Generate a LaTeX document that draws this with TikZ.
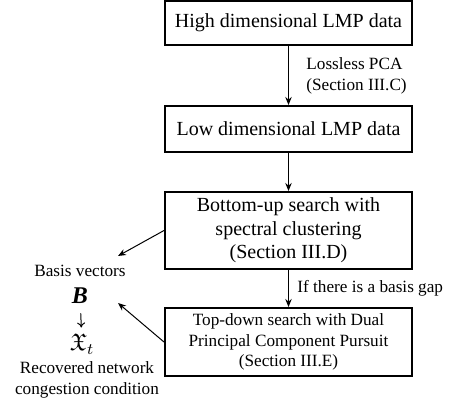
\documentclass[tikz,border=0pt]{standalone}
\usepackage{fontspec}
\setmainfont{Liberation Serif}
\usepackage{amssymb}
\usetikzlibrary{arrows.meta}
\begin{document}
\begin{tikzpicture}[x=0.5pt,y=-0.5pt,
  box/.style={draw,line width=1pt,inner sep=0pt,align=center,minimum width=123.5pt},
  big/.style={font=\fontsize{10}{11.8}\selectfont},
  small/.style={font=\fontsize{8.6}{10.3}\selectfont},
  conn/.style={line width=0.5pt,-{Stealth[length=4pt,width=3.2pt]}},
  lbl/.style={small,align=left,inner sep=0pt,anchor=west},
  side/.style={small,align=center,inner sep=0pt}]
\useasboundingbox (0,0) rectangle (450,406);

% process boxes
\node[box,big,minimum height=22pt] (b1) at (288.5,23) {High dimensional LMP data};
\node[box,big,minimum height=23pt] (b2) at (288.5,129) {Low dimensional LMP data};
\node[box,big,minimum height=38.5pt] (b3) at (288.5,230.5)
  {Bottom-up search with\\spectral clustering\\(Section III.D)};
\node[box,small,minimum height=34pt] (b4) at (288.5,342)
  {Top-down search with Dual\\Principal Component Pursuit\\(Section III.E)};

% flow between boxes
\draw[conn] (b1) -- (b2);
\draw[conn] (b2) -- (b3);
\draw[conn] (b3) -- (b4);
\node[lbl] (l1) at (306,76) {Lossless PCA\\(Section III.C)};
\node[lbl] (l2) at (297,288) {If there is a basis gap};

% results on the left
\node[side] (basis) at (80,271) {Basis vectors};
\node[inner sep=0pt,font=\fontsize{12}{14}\selectfont] (B) at (80,296) {\textbf{\textit{B}}};
\node[inner sep=0pt,font=\fontsize{12}{14}\selectfont] (X) at (82,344) {$\mathfrak{X}_t$};
\node[side] (rec) at (87,380) {Recovered network\\congestion condition};
\draw[line width=0.5pt,-{To[length=2.5pt,width=4pt]},shorten <=4.5pt,shorten >=3pt] (B) -- (X);

\coordinate (t1) at (118,256);
\coordinate (t2) at (118,303);
\draw[conn] (b3.west) -- (t1);
\draw[conn] (b4.west) -- (t2);
\end{tikzpicture}
\end{document}
